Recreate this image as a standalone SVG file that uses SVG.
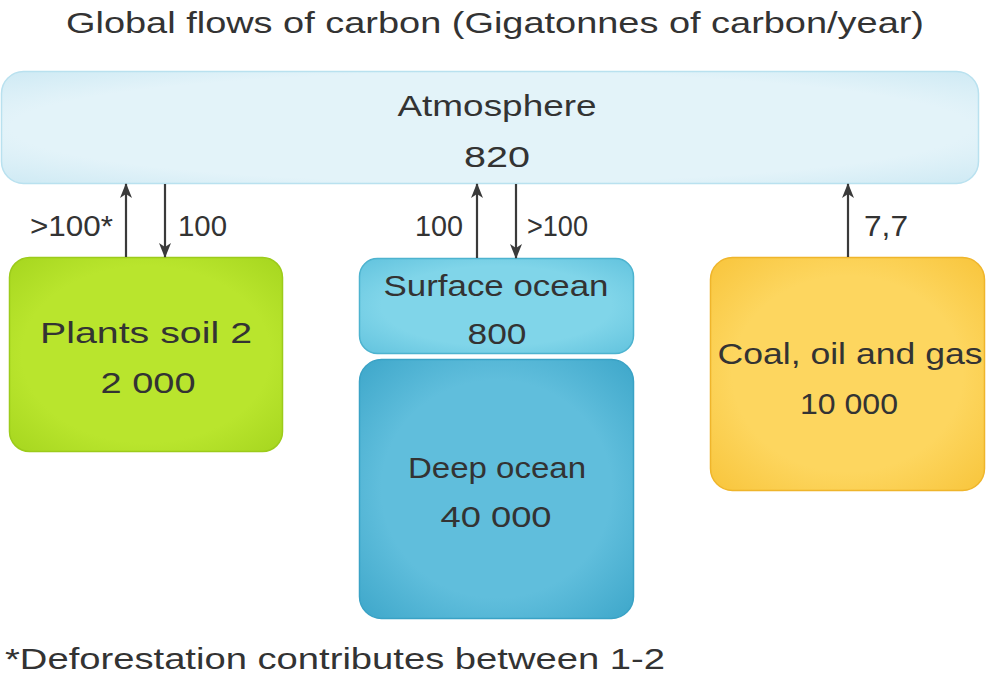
<svg xmlns="http://www.w3.org/2000/svg" width="1000" height="693" viewBox="0 0 1000 693">
<defs>
<radialGradient id="gAtm" cx="50%" cy="50%" r="70%"><stop offset="0.7" stop-color="#e3f3f9"/><stop offset="1" stop-color="#cfeaf4"/></radialGradient>
<radialGradient id="gPl" cx="50%" cy="50%" r="70%"><stop offset="0.65" stop-color="#b9e52d"/><stop offset="1" stop-color="#a6d61f"/></radialGradient>
<radialGradient id="gSo" cx="50%" cy="50%" r="70%"><stop offset="0.6" stop-color="#80d5e9"/><stop offset="1" stop-color="#62c3de"/></radialGradient>
<radialGradient id="gDo" cx="50%" cy="50%" r="70%"><stop offset="0.6" stop-color="#60bedc"/><stop offset="1" stop-color="#3ea7ca"/></radialGradient>
<radialGradient id="gCo" cx="50%" cy="50%" r="70%"><stop offset="0.6" stop-color="#fdd65f"/><stop offset="1" stop-color="#f8c53c"/></radialGradient>
<marker id="ah" viewBox="0 0 15 12" refX="14" refY="6" markerWidth="15" markerHeight="12" markerUnits="userSpaceOnUse" orient="auto"><path d="M0,0 L15,6 L0,12 L4,6 Z" fill="#3a3a3a"/></marker>
</defs>
<style>
text{font-family:"Liberation Sans",Arial,sans-serif;fill:#333;}
.t{font-size:30px;text-anchor:middle;}
.l{font-size:29px;}
.c{stroke:#3a3a3a;stroke-width:2.2;fill:none;marker-end:url(#ah);}
</style>
<rect width="1000" height="693" fill="#ffffff"/>
<text x="495" y="33" class="t" textLength="858" lengthAdjust="spacingAndGlyphs">Global flows of carbon (Gigatonnes of carbon/year)</text>
<g id="atmosphere">
<rect x="1.5" y="71.5" width="977" height="112" rx="22" fill="url(#gAtm)" stroke="#b9e1ef" stroke-width="1.5"/>
<text x="497" y="116" class="t" textLength="199" lengthAdjust="spacingAndGlyphs">Atmosphere</text>
<text x="497" y="167" class="t" textLength="66" lengthAdjust="spacingAndGlyphs">820</text>
</g>
<g id="plants">
<rect x="9.5" y="257.5" width="273" height="194" rx="20" fill="url(#gPl)" stroke="#9ccb1b" stroke-width="1.5"/>
<text x="146" y="343" class="t" textLength="212" lengthAdjust="spacingAndGlyphs">Plants soil 2</text>
<text x="148" y="393" class="t" textLength="95" lengthAdjust="spacingAndGlyphs">2 000</text>
</g>
<g id="surface-ocean">
<rect x="359.5" y="258.5" width="274" height="95" rx="18" fill="url(#gSo)" stroke="#4db3cf" stroke-width="1.5"/>
<text x="496" y="296" class="t" textLength="225" lengthAdjust="spacingAndGlyphs">Surface ocean</text>
<text x="497" y="344" class="t" textLength="59" lengthAdjust="spacingAndGlyphs">800</text>
</g>
<g id="deep-ocean">
<rect x="359.5" y="359.5" width="274" height="259" rx="22" fill="url(#gDo)" stroke="#3aa2c5" stroke-width="1.5"/>
<text x="497" y="478" class="t" textLength="178" lengthAdjust="spacingAndGlyphs">Deep ocean</text>
<text x="496" y="527" class="t" textLength="111" lengthAdjust="spacingAndGlyphs">40 000</text>
</g>
<g id="coal">
<rect x="710.5" y="257.5" width="274" height="233" rx="22" fill="url(#gCo)" stroke="#efb52b" stroke-width="1.5"/>
<text x="850" y="364" class="t" textLength="265" lengthAdjust="spacingAndGlyphs">Coal, oil and gas</text>
<text x="849" y="414" class="t" textLength="98" lengthAdjust="spacingAndGlyphs">10 000</text>
</g>
<g id="connectors">
<line x1="126" y1="257" x2="126" y2="184" class="c"/>
<line x1="165" y1="184" x2="165" y2="257" class="c"/>
<line x1="477" y1="258" x2="477" y2="184" class="c"/>
<line x1="516" y1="184" x2="516" y2="258" class="c"/>
<line x1="848" y1="257" x2="848" y2="184" class="c"/>
<text x="30" y="236" class="l" textLength="83" lengthAdjust="spacingAndGlyphs">&gt;100*</text>
<text x="178" y="236" class="l" textLength="49" lengthAdjust="spacingAndGlyphs">100</text>
<text x="415" y="236" class="l" textLength="48" lengthAdjust="spacingAndGlyphs">100</text>
<text x="527" y="236" class="l" textLength="61" lengthAdjust="spacingAndGlyphs">&gt;100</text>
<text x="864" y="236" class="l" textLength="44" lengthAdjust="spacingAndGlyphs">7,7</text>
</g>
<text x="5" y="669" style="font-size:30px" textLength="660" lengthAdjust="spacingAndGlyphs">*Deforestation contributes between 1-2</text>
</svg>
